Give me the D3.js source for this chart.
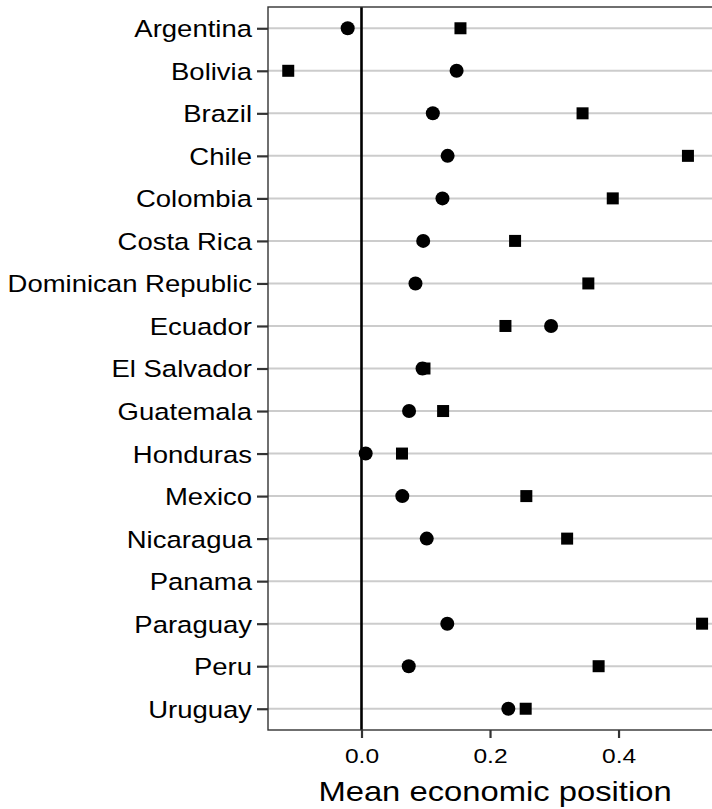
<!DOCTYPE html>
<html>
<head>
<meta charset="utf-8">
<script src="https://cdn.jsdelivr.net/npm/d3@7"></script>
<style>
  body { margin: 0; background: #fff; }
  text { font-family: "Liberation Sans", Arial, Helvetica, sans-serif; fill: #000; }
</style>
</head>
<body>
<div id="chart"></div>
<script>
// countries top to bottom
const countries = ["Argentina", "Bolivia", "Brazil", "Chile", "Colombia", "Costa Rica",
  "Dominican Republic", "Ecuador", "El Salvador", "Guatemala", "Honduras", "Mexico",
  "Nicaragua", "Panama", "Paraguay", "Peru", "Uruguay"];

// circle series (null = missing)
const circleValues = [-0.0215, 0.148, 0.111, 0.134, 0.126, 0.096,
  0.084, 0.295, 0.095, 0.074, 0.0065, 0.0635,
  0.1015, null, 0.1335, 0.0735, 0.2285];

// square series
const squareValues = [0.154, -0.114, 0.344, 0.508, 0.391, 0.239,
  0.353, 0.224, 0.098, 0.127, 0.063, 0.2565,
  0.320, null, 0.530, 0.369, 0.2555];

const xTicks = [0, 0.2, 0.4];
const xTitle = "Mean economic position";

const W = 712, H = 809;
const panel = { left: 268, top: 7, right: 722, bottom: 730 };
const stretch = 1.17; // text in the reference is a bit wide

const svg = d3.select("#chart").append("svg")
  .attr("width", W)
  .attr("height", H);

const x = d3.scaleLinear()
  .domain([-0.1455, 0.561])
  .range([panel.left, panel.right]);

const y = d3.scalePoint()
  .domain(countries)
  .range([panel.top, panel.bottom])
  .padding(0.5);

// horizontal grid
svg.append("g")
  .selectAll("line")
  .data(countries)
  .join("line")
  .attr("x1", panel.left)
  .attr("x2", panel.right)
  .attr("y1", d => y(d))
  .attr("y2", d => y(d))
  .attr("stroke", "#cccccc")
  .attr("stroke-width", 2);

// zero line
svg.append("line")
  .attr("x1", x(0))
  .attr("x2", x(0))
  .attr("y1", panel.top)
  .attr("y2", panel.bottom)
  .attr("stroke", "#000")
  .attr("stroke-width", 2.6);

// points
const rows = countries.map((c, i) => ({ country: c, circle: circleValues[i], square: squareValues[i] }));

svg.append("g")
  .selectAll("circle")
  .data(rows.filter(d => d.circle != null))
  .join("circle")
  .attr("cx", d => x(d.circle))
  .attr("cy", d => y(d.country))
  .attr("r", 7)
  .attr("fill", "#000");

const sq = 12;
svg.append("g")
  .selectAll("rect")
  .data(rows.filter(d => d.square != null))
  .join("rect")
  .attr("x", d => x(d.square) - sq / 2)
  .attr("y", d => y(d.country) - sq / 2)
  .attr("width", sq)
  .attr("height", sq)
  .attr("fill", "#000");

// panel border
svg.append("rect")
  .attr("x", panel.left)
  .attr("y", panel.top)
  .attr("width", panel.right - panel.left)
  .attr("height", panel.bottom - panel.top)
  .attr("fill", "none")
  .attr("stroke", "#333333")
  .attr("stroke-width", 1.4);

// y axis
const yAxis = svg.append("g")
  .attr("transform", `translate(${panel.left},0)`)
  .call(d3.axisLeft(y).tickSize(11).tickPadding(5));
yAxis.select(".domain").remove();
yAxis.selectAll(".tick line").attr("stroke", "#333333").attr("stroke-width", 2.2);
yAxis.selectAll(".tick text")
  .attr("font-size", 23.5)
  .attr("font-family", null)
  .attr("dy", "0.36em")
  .attr("x", -16 / stretch)
  .attr("transform", `scale(${stretch},1)`);

// x axis
const xAxis = svg.append("g")
  .attr("transform", `translate(0,${panel.bottom})`)
  .call(d3.axisBottom(x).tickValues(xTicks).tickFormat(d3.format(".1f")).tickSize(8).tickPadding(10));
xAxis.select(".domain").remove();
xAxis.selectAll(".tick line").attr("stroke", "#333333").attr("stroke-width", 2.2);
xAxis.selectAll(".tick text")
  .attr("font-size", 21)
  .attr("font-family", null)
  .attr("transform", `scale(${stretch},1)`);

// title
svg.append("text")
  .attr("transform", `translate(${(panel.left + panel.right) / 2},801) scale(${stretch},1)`)
  .attr("text-anchor", "middle")
  .attr("font-size", 28)
  .text(xTitle);
</script>
</body>
</html>
